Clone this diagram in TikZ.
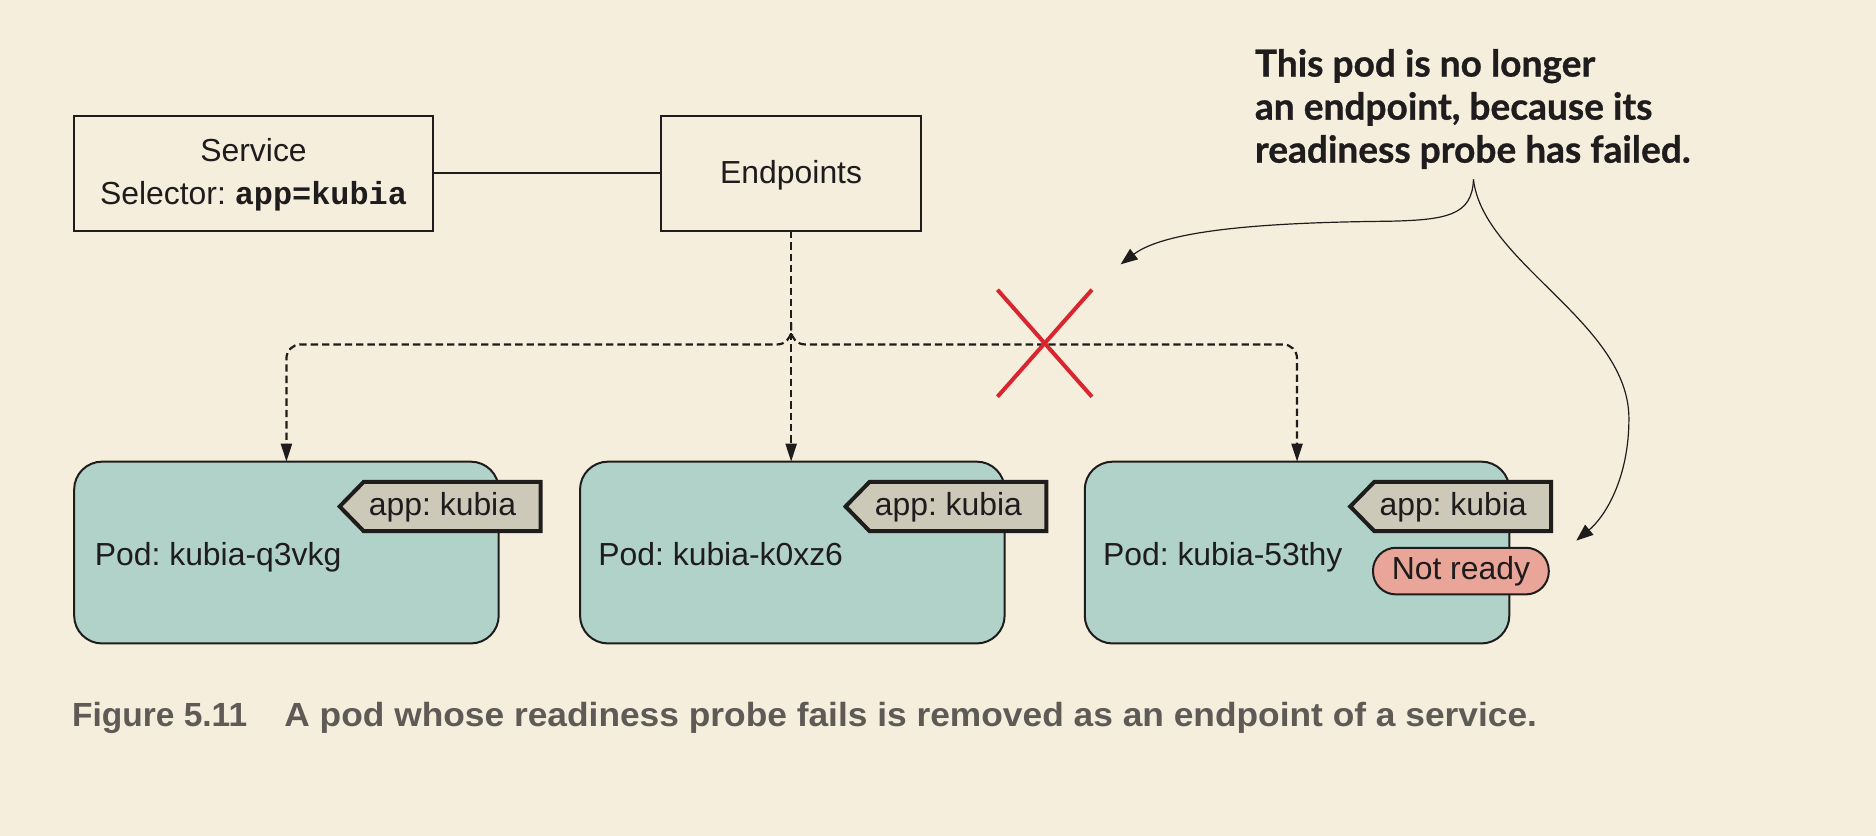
\documentclass[tikz,border=0pt]{standalone}
\usepackage{fontspec}
\setmainfont{Liberation Sans}
\setmonofont{Liberation Mono}
\newfontfamily\notefont[BoldFeatures={FakeBold=0.8}]{Lato}
\newfontfamily\capwide[FakeStretch=1.055]{Liberation Sans}
\frenchspacing
\usetikzlibrary{arrows.meta,calc}
\definecolor{bgcol}{HTML}{F5EEDD}
\definecolor{podfill}{HTML}{B0D2C8}
\definecolor{tagfill}{HTML}{CDC9B9}
\definecolor{pillfill}{HTML}{E9A598}
\definecolor{xred}{HTML}{D9252E}
\definecolor{capcol}{HTML}{5E5A55}
\definecolor{ink}{HTML}{1E1C1C}
\tikzset{
  box/.style={draw=ink, line width=1pt, minimum height=57.6pt, inner sep=0pt, outer sep=0pt, align=center, font=\fontsize{16}{21.3}\selectfont, text=ink},
  pod/.style={draw=ink, line width=1pt, fill=podfill, rounded corners=14pt, minimum width=213pt, minimum height=91.2pt, inner sep=0pt, outer sep=0pt},
  podlabel/.style={anchor=base west, inner sep=0pt, font=\fontsize{16}{19}\selectfont, text=ink},
  tagshape/.style={draw=ink, line width=2pt, fill=tagfill, line join=miter},
  taglabel/.style={anchor=base, inner sep=0pt, font=\fontsize{16}{19}\selectfont, text=ink},
  pill/.style={draw=ink, line width=1pt, fill=pillfill, rounded corners=11.5pt, minimum width=88.2pt, minimum height=23.4pt, inner sep=0pt, outer sep=0pt, font=\fontsize{16}{19}\selectfont, text=ink},
  dconn/.style={draw=ink, line width=1.1pt, dash pattern=on 3.7pt off 2pt, -{Triangle[length=9pt,width=5.5pt]}},
  annot/.style={draw=ink, line width=0.6pt, -{Triangle[length=8.5pt,width=6.5pt]}},
  notetext/.style={anchor=base west, inner sep=0pt, text=ink, font=\notefont\bfseries\fontsize{18.6}{22}\selectfont},
  captext/.style={anchor=base west, inner sep=0pt, text=capcol, font=\bfseries\fontsize{16.8}{20}\selectfont},
  cross/.style={draw=xred, line width=2pt},
}
\begin{document}
\begin{tikzpicture}[x=0.6pt, y=-0.6pt]
\useasboundingbox (0,0) rectangle (1568.6,699);
\fill[bgcol] (0,0) rectangle (1568.6,699);

% top boxes
\node[box, minimum width=180pt] (svc) at (212,145) {\rule{0pt}{13pt}Service\\Selector: {\ttfamily\bfseries app=kubia}};
\node[box, minimum width=130.2pt] (ep) at (661.5,145) {\rule{0pt}{13pt}Endpoints};
\draw[draw=ink, line width=1pt] (svc.east) -- (ep.west);

% pods
\node[pod] (pod1) at (239.5,462) {};
\node[pod] (pod2) at (662.5,462) {};
\node[pod] (pod3) at (1084.5,462) {};

\foreach \p in {pod1,pod2,pod3} {
  \draw[tagshape] ($(\p.north east)+(35,17)$) -- ++(0,41) -- ++(-148,0) -- ++(-20,-20.5) -- ++(20,-20.5) -- cycle;
  \node[taglabel] (tag\p) at ($(\p.north east)+(-47,44.6)$) {app: kubia};
}
\node[podlabel] (txt1) at ($(pod1.north west)+(17,87)$) {Pod: kubia-q3vkg};
\node[podlabel] (txt2) at ($(pod2.north west)+(15,87)$) {Pod: kubia-k0xz6};
\node[podlabel] (txt3) at ($(pod3.north west)+(15,87)$) {Pod: kubia-53thy};
\node[pill] (notready) at (1221.5,477.5) {Not ready};

% dashed connectors
\coordinate (split) at (661.5,270);
\coordinate (hl) at (0,288);
\draw[dconn] (ep.south) -- (ep.south |- pod2.north);
\draw[dconn, rounded corners=7pt] (split) |- (pod1.north |- hl) -- (pod1.north);
\draw[dconn, rounded corners=7pt] (split) |- (pod3.north |- hl) -- (pod3.north);

% red cross
\coordinate (xc) at (873.5,287);
\draw[cross] ($(xc)+(-39.5,-44.75)$) -- ($(xc)+(39.5,44.75)$);
\draw[cross] ($(xc)+(39.5,-44.75)$) -- ($(xc)+(-39.5,44.75)$);

% annotation
\node[notetext] (note1) at (1049,64) {This pod is no longer};
\node[notetext] (note2) at (1049,100) {an endpoint, because its};
\node[notetext] (note3) at (1049,136) {readiness probe has failed.};
\coordinate (asrc) at (1232,150);
\coordinate (xtarget) at (937,221);
\coordinate (ptarget) at (1318,452);
\draw[annot] (asrc) .. controls (1231,180) and (1210,184) .. (1160,185) .. controls (1060,186) and (975,192) .. (xtarget);
\draw[annot] (asrc) .. controls (1240,220) and (1362,270) .. (1362,350) .. controls (1362,400) and (1342,432) .. (ptarget);

% caption
\node[captext] (capnum) at (60,607.5) {Figure 5.11};
\node[captext, font=\capwide\bfseries\fontsize{16.8}{20}\selectfont] (captxt) at (237.5,607.5) {A pod whose readiness probe fails is removed as an endpoint of a service.};
\end{tikzpicture}
\end{document}
